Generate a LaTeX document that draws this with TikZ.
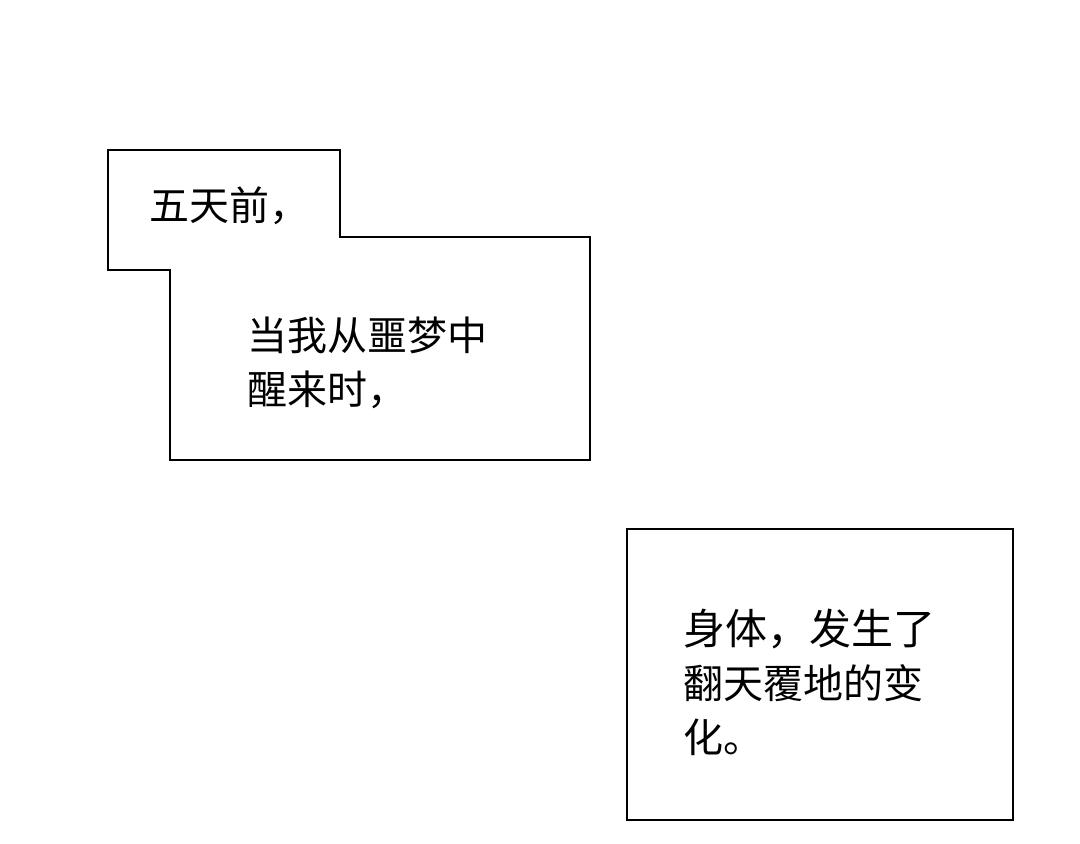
\documentclass[tikz,border=0pt]{standalone}
\usepackage{fontspec}
\setmainfont{Noto Sans CJK SC}
\begin{document}
\begin{tikzpicture}[x=1pt, y=-1pt, line width=2pt,
  caption/.style={anchor=north west, inner sep=0pt, align=left, font=\fontsize{40}{54}\selectfont}]
\useasboundingbox (0,0) rectangle (1080,844);

\draw (108,150) -- (340,150) -- (340,237) -- (590,237) -- (590,460) -- (170,460) -- (170,270) -- (108,270) -- cycle;
\draw (627,529) rectangle (1013,820);

\node [caption] (T1) at (148,186) {五天前，};
\node [caption] (T2) at (246,316) {当我从噩梦中\\醒来时，};
\node [caption] (T3) at (682,608) {\fontsize{42}{55}\selectfont 身体，发生了\\翻天覆地的变\\化。};

\end{tikzpicture}
\end{document}
